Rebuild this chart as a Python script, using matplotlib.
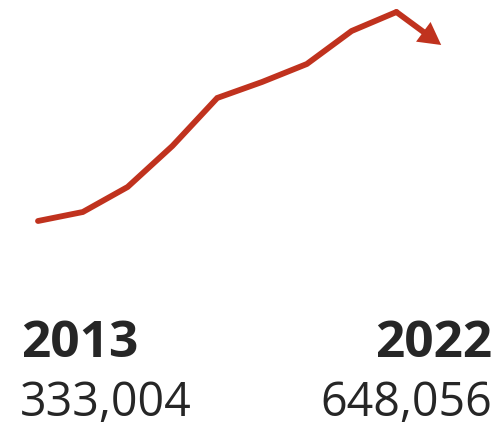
import numpy as np
import matplotlib.pyplot as plt

# yearly totals, first and last one are printed under the line
years = [2013, 2014, 2015, 2016, 2017, 2018, 2019, 2020, 2021, 2022]
totals = [333004, 349100, 393900, 467300, 553200, 581800, 614000, 673100, 707100, 648056]

red = '#C0321E'
ink = '#262626'
W, H = 498, 427

fig = plt.figure(figsize=(W / 100, H / 100), dpi=100)
ax = fig.add_axes([0, 0, 1, 1])
ax.set_axis_off()

# pixel layout: first year at x=38, 44.8 px per year; 1790 per px vertically
ax.set_xlim(2013 - 38 / 44.8, 2013 + (W - 38) / 44.8)
ax.set_ylim(333004 - (H - 222) * 1790, 333004 + 222 * 1790)

lw = 4.2
# line up to the peak
ax.plot(years[:-1], totals[:-1], color=red, lw=lw,
        solid_capstyle='round', solid_joinstyle='miter')
# last year: shaft stops inside the head so the tip stays sharp
ax.annotate('', xy=(years[-1], totals[-1]), xytext=(years[-2], totals[-2]),
            arrowprops=dict(arrowstyle='-', color=red, lw=lw,
                            shrinkA=0, shrinkB=9))
ax.annotate('', xy=(years[-1], totals[-1]), xytext=(years[-2], totals[-2]),
            arrowprops=dict(arrowstyle='-|>,head_length=1.0,head_width=0.55',
                            mutation_scale=16, color=red, lw=0,
                            shrinkA=0, shrinkB=0))

fam = ['Open Sans', 'DejaVu Sans']
fig.text(21 / W, 1 - 357 / H, str(years[0]), fontsize=37, fontweight='bold',
         color=ink, family=fam, ha='left', va='baseline')
fig.text(20 / W, 1 - 416 / H, f'{totals[0]:,}', fontsize=33.5,
         color=ink, family=fam, ha='left', va='baseline')
fig.text(492 / W, 1 - 357 / H, str(years[-1]), fontsize=37, fontweight='bold',
         color=ink, family=fam, ha='right', va='baseline')
fig.text(492 / W, 1 - 416 / H, f'{totals[-1]:,}', fontsize=33.5,
         color=ink, family=fam, ha='right', va='baseline')

fig.savefig('out.png', dpi=100)
